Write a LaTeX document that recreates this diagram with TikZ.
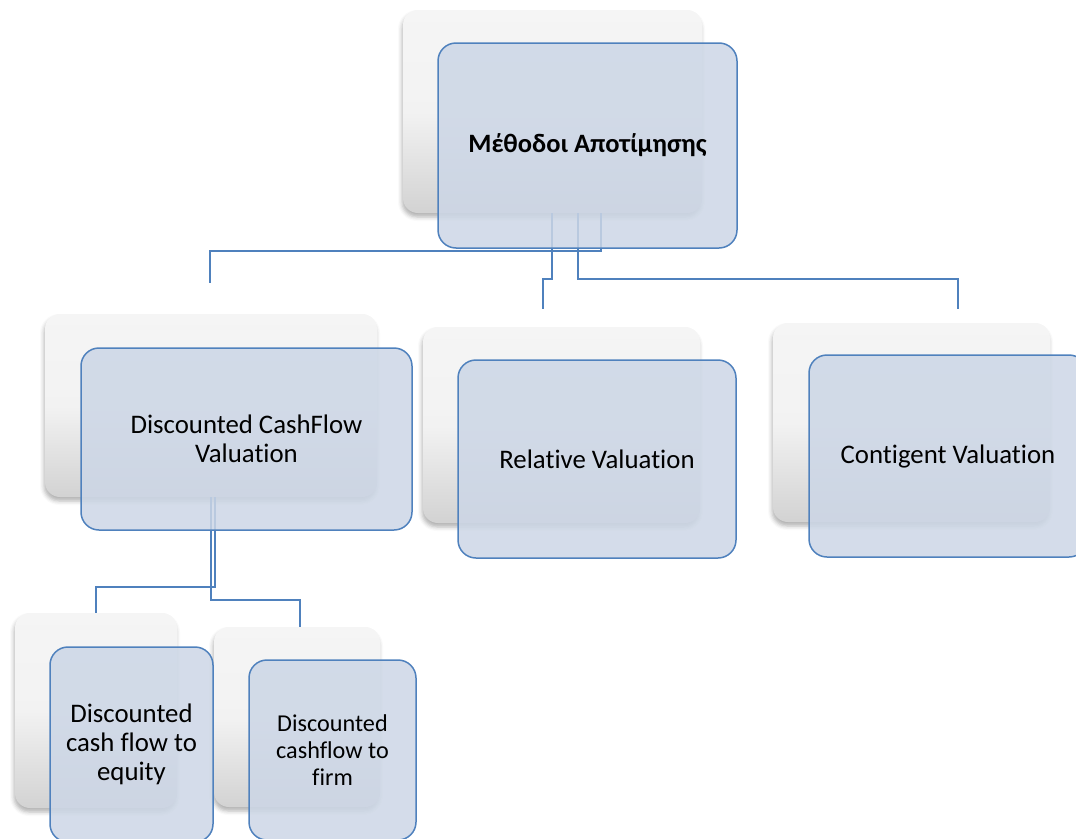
\documentclass[tikz,border=0pt]{standalone}
\usepackage{fontspec}
\setmainfont{Carlito}[Ligatures={TeX,NoCommon}]
\usetikzlibrary{shadows.blur}

\definecolor{linkblue}{HTML}{4F81BD}
\definecolor{boxblue}{RGB}{204,214,230}
\pgfdeclareverticalshading{silver}{100bp}{color(0bp)=(black!27); color(20bp)=(black!20); color(50bp)=(black!5); color(100bp)=(black!3)}

\begin{document}
\begin{tikzpicture}[x=1pt, y=-1pt,
	back/.style={rounded corners=15pt, shading=silver, inner sep=0pt,
		blur shadow={shadow xshift=-1pt, shadow yshift=-4pt, shadow blur radius=4pt, shadow opacity=30}},
	front/.style={draw=linkblue, line width=1.5pt, fill=boxblue, fill opacity=0.85, text opacity=1,
		rounded corners=18pt, align=center, inner sep=0pt},
	big/.style={font=\fontsize{26.8}{29}\selectfont},
	small/.style={font=\fontsize{24.2}{27}\selectfont},
	link/.style={draw=linkblue, line width=2pt}]
	\useasboundingbox (0,0) rectangle (1076,838);
	\clip (0,0) rectangle (1076,838);
	
	% back cards
	\node[back, minimum width=299pt, minimum height=203pt] (topsh) at (552.5,111.5) {};
	\node[back, minimum width=332pt, minimum height=183pt] (dcfsh) at (211,405.5) {};
	\node[back, minimum width=277pt, minimum height=196pt] (relsh) at (561.5,425) {};
	\node[back, minimum width=277pt, minimum height=199pt] (ctgsh) at (911.5,422.5) {};
	\node[back, minimum width=162pt, minimum height=195pt] (eqsh) at (96,710.5) {};
	\node[back, minimum width=166pt, minimum height=180pt] (firmsh) at (297,717) {};
	
	% free ends
	\coordinate (dcfin) at (210,283);
	\coordinate (relin) at (543,309);
	\coordinate (ctgin) at (958,309);
	
	% connectors
	\draw[link] ([xshift=48.5pt]topsh.south) -- ++(0,38) -| (dcfin);
	\draw[link] ([xshift=-0.5pt]topsh.south) -- ++(0,66) -| (relin);
	\draw[link] ([xshift=25.5pt]topsh.south) -- ++(0,66) -| (ctgin);
	\draw[link] ([xshift=4pt]dcfsh.south) -- ++(0,90) -| (eqsh.north);
	\draw[link] (dcfsh.south) -- ++(0,103) -| ([xshift=3pt]firmsh.north);
	
	% front cards
	\node[front, minimum width=299pt, minimum height=205pt, font=\fontsize{26.5}{30}\selectfont\bfseries] (top) at (587.5,145.5) {Μέθοδοι Αποτίμησης};
	\node[front, big, minimum width=331pt, minimum height=182pt] (dcf) at (246.5,439) {Discounted CashFlow\\Valuation};
	\node[front, big, minimum width=278pt, minimum height=198pt] (rel) at (597,459) {Relative Valuation};
	\node[front, big, minimum width=278pt, minimum height=202pt] (ctg) at (948,456) {Contigent Valuation};
	\node[front, big, minimum width=163pt, minimum height=195pt] (eq) at (131.5,744.5) {Discounted\\cash flow to\\equity};
	\node[front, small, minimum width=167pt, minimum height=180pt] (firm) at (332.5,750) {Discounted\\cashflow to\\firm};
	
\end{tikzpicture}
\end{document}
